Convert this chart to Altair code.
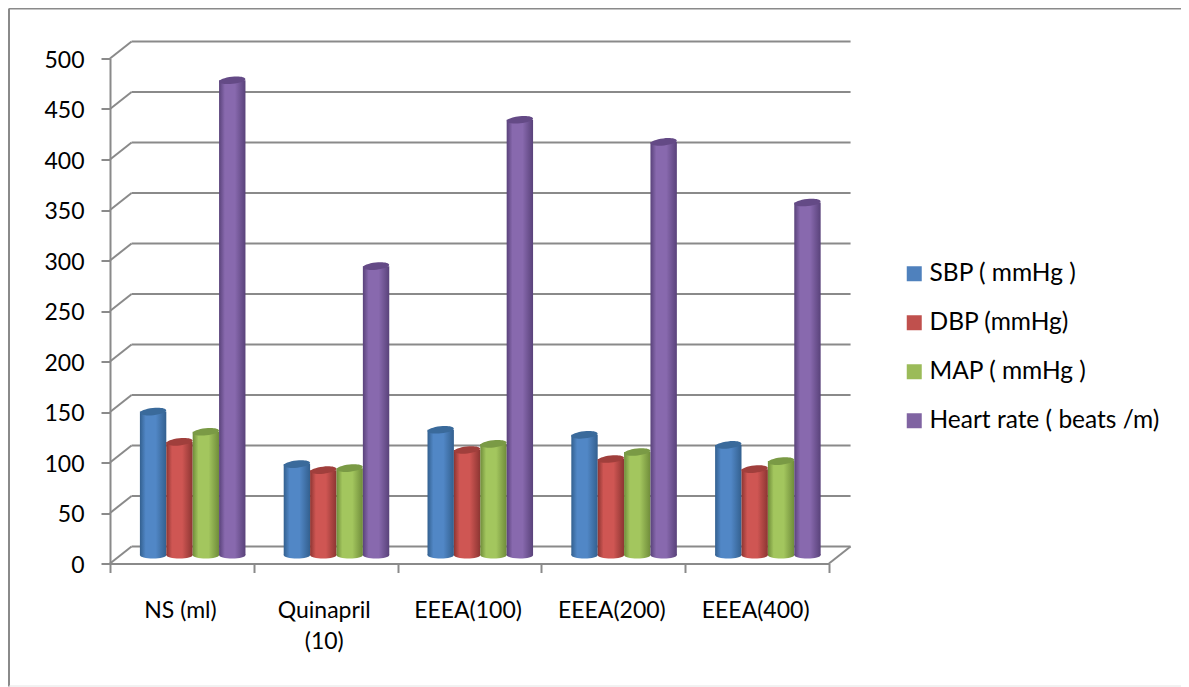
import altair as alt
import pandas as pd

categories = ["NS (ml)", "Quinapril\n(10)", "EEEA(100)", "EEEA(200)", "EEEA(400)"]
series_names = ["SBP ( mmHg )", "DBP (mmHg)", "MAP ( mmHg )", "Heart rate ( beats /m)"]
sbp = [142, 90, 124, 119, 109]
dbp = [112, 84, 104, 95, 85]
map_ = [122, 86, 110, 102, 93]
heart = [470, 286, 431, 409, 349]
all_values = [sbp, dbp, map_, heart]
y_ticks = [0, 50, 100, 150, 200, 250, 300, 350, 400, 450, 500]

legend_colors = ["#4f81bd", "#c0504d", "#9bbb59", "#8064a2"]
edge_colors = ["#33608f", "#8c3532", "#6f8c3a", "#59427a"]
mid_colors = ["#5187c6", "#cf5653", "#a3c65e", "#8869ae"]
cap_colors = ["#3a6a9b", "#a03f3c", "#7a9a45", "#644a86"]

FONT = "Lato"
FS = 23
LEG_FS = 24.5
GREY = "#8a8a8a"
DX = 0.15      # wall depth, category units
DY = 16.8      # wall depth, value units
BASE = 8.4     # bars stand mid-floor
BW = 0.1835

x_scale = alt.Scale(domain=[0, 5], nice=False, zero=False)
y_scale = alt.Scale(domain=[0, 500], nice=False, zero=False)
X = lambda f: alt.X(f, type="quantitative", scale=x_scale, title=None)
Y = lambda f: alt.Y(f, type="quantitative", scale=y_scale, title=None)

# walls
wall_rows = []
for v in y_ticks:
    wall_rows += [{"id": f"h{v}", "x": DX, "y": v + DY}, {"id": f"h{v}", "x": 5 + DX, "y": v + DY},
                  {"id": f"d{v}", "x": 0, "y": v}, {"id": f"d{v}", "x": DX, "y": v + DY}]
wall_rows += [{"id": "r", "x": 5, "y": 0}, {"id": "r", "x": 5 + DX, "y": DY}]
walls = alt.Chart(pd.DataFrame(wall_rows)).mark_line(color=GREY, strokeWidth=2).encode(
    x=alt.X("x:Q", scale=x_scale, title=None,
            axis=alt.Axis(values=[0, 1, 2, 3, 4, 5], labels=False, tickSize=9, tickColor=GREY, tickWidth=2,
                          domainColor=GREY, domainWidth=2, grid=False)),
    y=alt.Y("y:Q", scale=y_scale, title=None,
            axis=alt.Axis(values=y_ticks, tickSize=9, tickColor=GREY, tickWidth=2, domainColor=GREY, domainWidth=2,
                          grid=False, labelFont=FONT, labelFontSize=FS, labelColor="#000000", labelPadding=17,
                          labelOffset=1.5)),
    detail="id:N",
)

layers = [walls]
ELLIPSE = "M-1,0A1,0.27,0,1,1,1,0A1,0.27,0,1,1,-1,0Z"
for s, (name, vals) in enumerate(zip(series_names, all_values)):
    rows = []
    for i, v in enumerate(vals):
        c = i + 0.5 + DX / 2 + (s - 1.5) * BW
        rows.append({"cat": categories[i], "value": v, "top": v + BASE, "base": BASE,
                     "xc": c, "x0": c - BW / 2, "x1": c + BW / 2})
    df = pd.DataFrame(rows)
    grad = alt.LinearGradient(gradient="linear", x1=0, x2=1, y1=0, y2=0, stops=[
        alt.GradientStop(color=edge_colors[s], offset=0),
        alt.GradientStop(color=mid_colors[s], offset=0.22),
        alt.GradientStop(color=mid_colors[s], offset=0.6),
        alt.GradientStop(color=edge_colors[s], offset=1),
    ])
    bottom = alt.Chart(df).mark_point(shape=ELLIPSE, size=697, filled=True, fill=grad, opacity=1, strokeWidth=0).encode(
        x=X("xc"), y=Y("base"))
    body = alt.Chart(df).mark_rect(fill=grad).encode(x=X("x0"), x2="x1:Q", y=Y("base"), y2="top:Q")
    cap = alt.Chart(df).mark_point(shape=ELLIPSE, size=697, filled=True, fill=cap_colors[s], opacity=1, strokeWidth=0,
                                   angle=354).encode(x=X("xc"), y=Y("top"))
    layers += [bottom, body, cap]

# category labels
lab = pd.DataFrame({"label": categories, "xc": [i + 0.49 for i in range(5)]})
labels = alt.Chart(lab).mark_text(lineBreak="\n", font=FONT, fontSize=FS, color="#000000", baseline="top",
                                  align="center", lineHeight=31).encode(
    x=X("xc"), y=alt.value(541), text="label:N")
layers.append(labels)

# legend
leg = pd.DataFrame({"series": series_names, "x": [0] * 4, "y": [0] * 4})
legend_layer = alt.Chart(leg).mark_square(opacity=0).encode(
    x=X("x"), y=Y("y"),
    color=alt.Color("series:N", scale=alt.Scale(domain=series_names, range=legend_colors), title=None,
                    legend=alt.Legend(orient="none", legendX=792, legendY=203, symbolType="square", symbolSize=225,
                                      symbolOpacity=1, symbolStrokeWidth=0, labelFont=FONT, labelFontSize=LEG_FS,
                                      labelColor="#000000", rowPadding=24, labelOffset=3, labelLimit=400)),
)
layers.append(legend_layer)

# outer frame
frame_l = alt.Chart(pd.DataFrame({"a": [0]})).mark_rule(color=GREY, strokeWidth=2).encode(
    x=alt.value(-101), y=alt.value(-50), y2=alt.value(628))
frame_t = alt.Chart(pd.DataFrame({"a": [0]})).mark_rule(color=GREY, strokeWidth=2).encode(
    x=alt.value(-101), x2=alt.value(1071), y=alt.value(-50))
frame_b = alt.Chart(pd.DataFrame({"a": [0]})).mark_rule(color="#e4e4e4", strokeWidth=1).encode(
    x=alt.value(-101), x2=alt.value(1071), y=alt.value(627.5))
layers += [frame_l, frame_t, frame_b]

chart = alt.layer(*layers).properties(
    width=719, height=505, background="white",
    padding={"left": 102, "top": 50.5, "right": 352, "bottom": 123},
    autosize=alt.AutoSizeParams(type="none"),
).configure_view(stroke=None)

chart.save("out.html", embed_options={"renderer": "svg", "actions": False})
